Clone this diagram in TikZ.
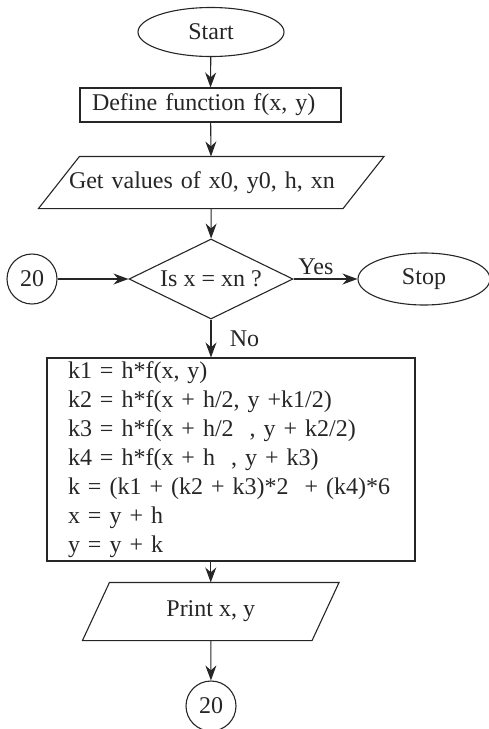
\documentclass[tikz,border=0pt]{standalone}
\usepackage{fontspec}
\setmainfont{Liberation Serif}
\usetikzlibrary{shapes.geometric,arrows.meta}

\begin{document}
\begin{tikzpicture}[x=1pt,y=-1pt,
		color=black!85, line width=1.1pt,
		every node/.style={font=\fontsize{24}{29}\selectfont},
		term/.style={draw, ellipse, inner sep=0pt},
		proc/.style={draw, rectangle, inner sep=0pt},
		io/.style={inner sep=0pt},
		decide/.style={draw, diamond, aspect=2.05, inner sep=0pt, minimum width=164pt, minimum height=80pt},
		joint/.style={draw, circle, inner sep=0pt, minimum size=50pt},
		flow/.style={-{Stealth[length=15pt,width=11pt]}}]
				\useasboundingbox (0,0) rectangle (489,729);
				% Blocks
				\node[term, minimum width=146pt, minimum height=49pt] (start) at (211,32) {Start};
				\node[proc, minimum height=34pt, text width=237pt, inner xsep=12pt, align=left] (define) at (210.5,105) {Define function f(x, y)};
				\node[io, minimum height=51pt, text width=284.5pt, inner xsep=9.5pt, align=left] (get) at (211.25,182.5) {Get values of x0, y0, h, xn};
				\node[decide] (test) at (211,279) {Is x = xn ?};
				\node[joint] (jin) at (32,279) {20};
				\node[term, minimum width=132pt, minimum height=52pt] (stop) at (424,279) {Stop};
				\node[proc, minimum height=203pt, text width=326pt, inner xsep=21pt, align=left] (calc) at (231,459.5) {k1 = h*f(x, y)\\
					k2 = h*f(x + h/2, y +k1/2)\\
					k3 = h*f(x + h/2\ \ , y + k2/2)\\
					k4 = h*f(x + h\ \ , y + k3)\\
					k = (k1 + (k2 + k3)*2\ \ + (k4)*6\\
					x = y + h\\
					y = y + k};
				\node[io, minimum width=228.5pt, minimum height=57pt] (print) at (210.75,611.5) {Print x, y};
				\node[joint] (jout) at (211,706) {20};
				% Parallelograms
				\draw ([xshift=20.5pt]get.north west) -- ([xshift=20.5pt]get.north east)
					-- ([xshift=-20.5pt]get.south east) -- ([xshift=-20.5pt]get.south west) -- cycle;
				\draw ([xshift=13.5pt]print.north west) -- ([xshift=13.5pt]print.north east)
					-- ([xshift=-13.5pt]print.south east) -- ([xshift=-13.5pt]print.south west) -- cycle;
				% Arrows
				\draw[flow] (start) -- (define.north);
				\draw[flow] (define) -- (get);
				\draw[flow] (get) -- (test);
				\draw[flow] (jin) -- (test);
				\draw[flow] (test) -- node[above, pos=0.35] {Yes} (stop);
				\draw[flow] (test.south) -- node[right=15pt, midway] {No} (test.south |- calc.north);
				\draw[flow] (print.north |- calc.south) -- (print.north);
				\draw[flow] (print) -- (jout);
			\end{tikzpicture}
\end{document}
